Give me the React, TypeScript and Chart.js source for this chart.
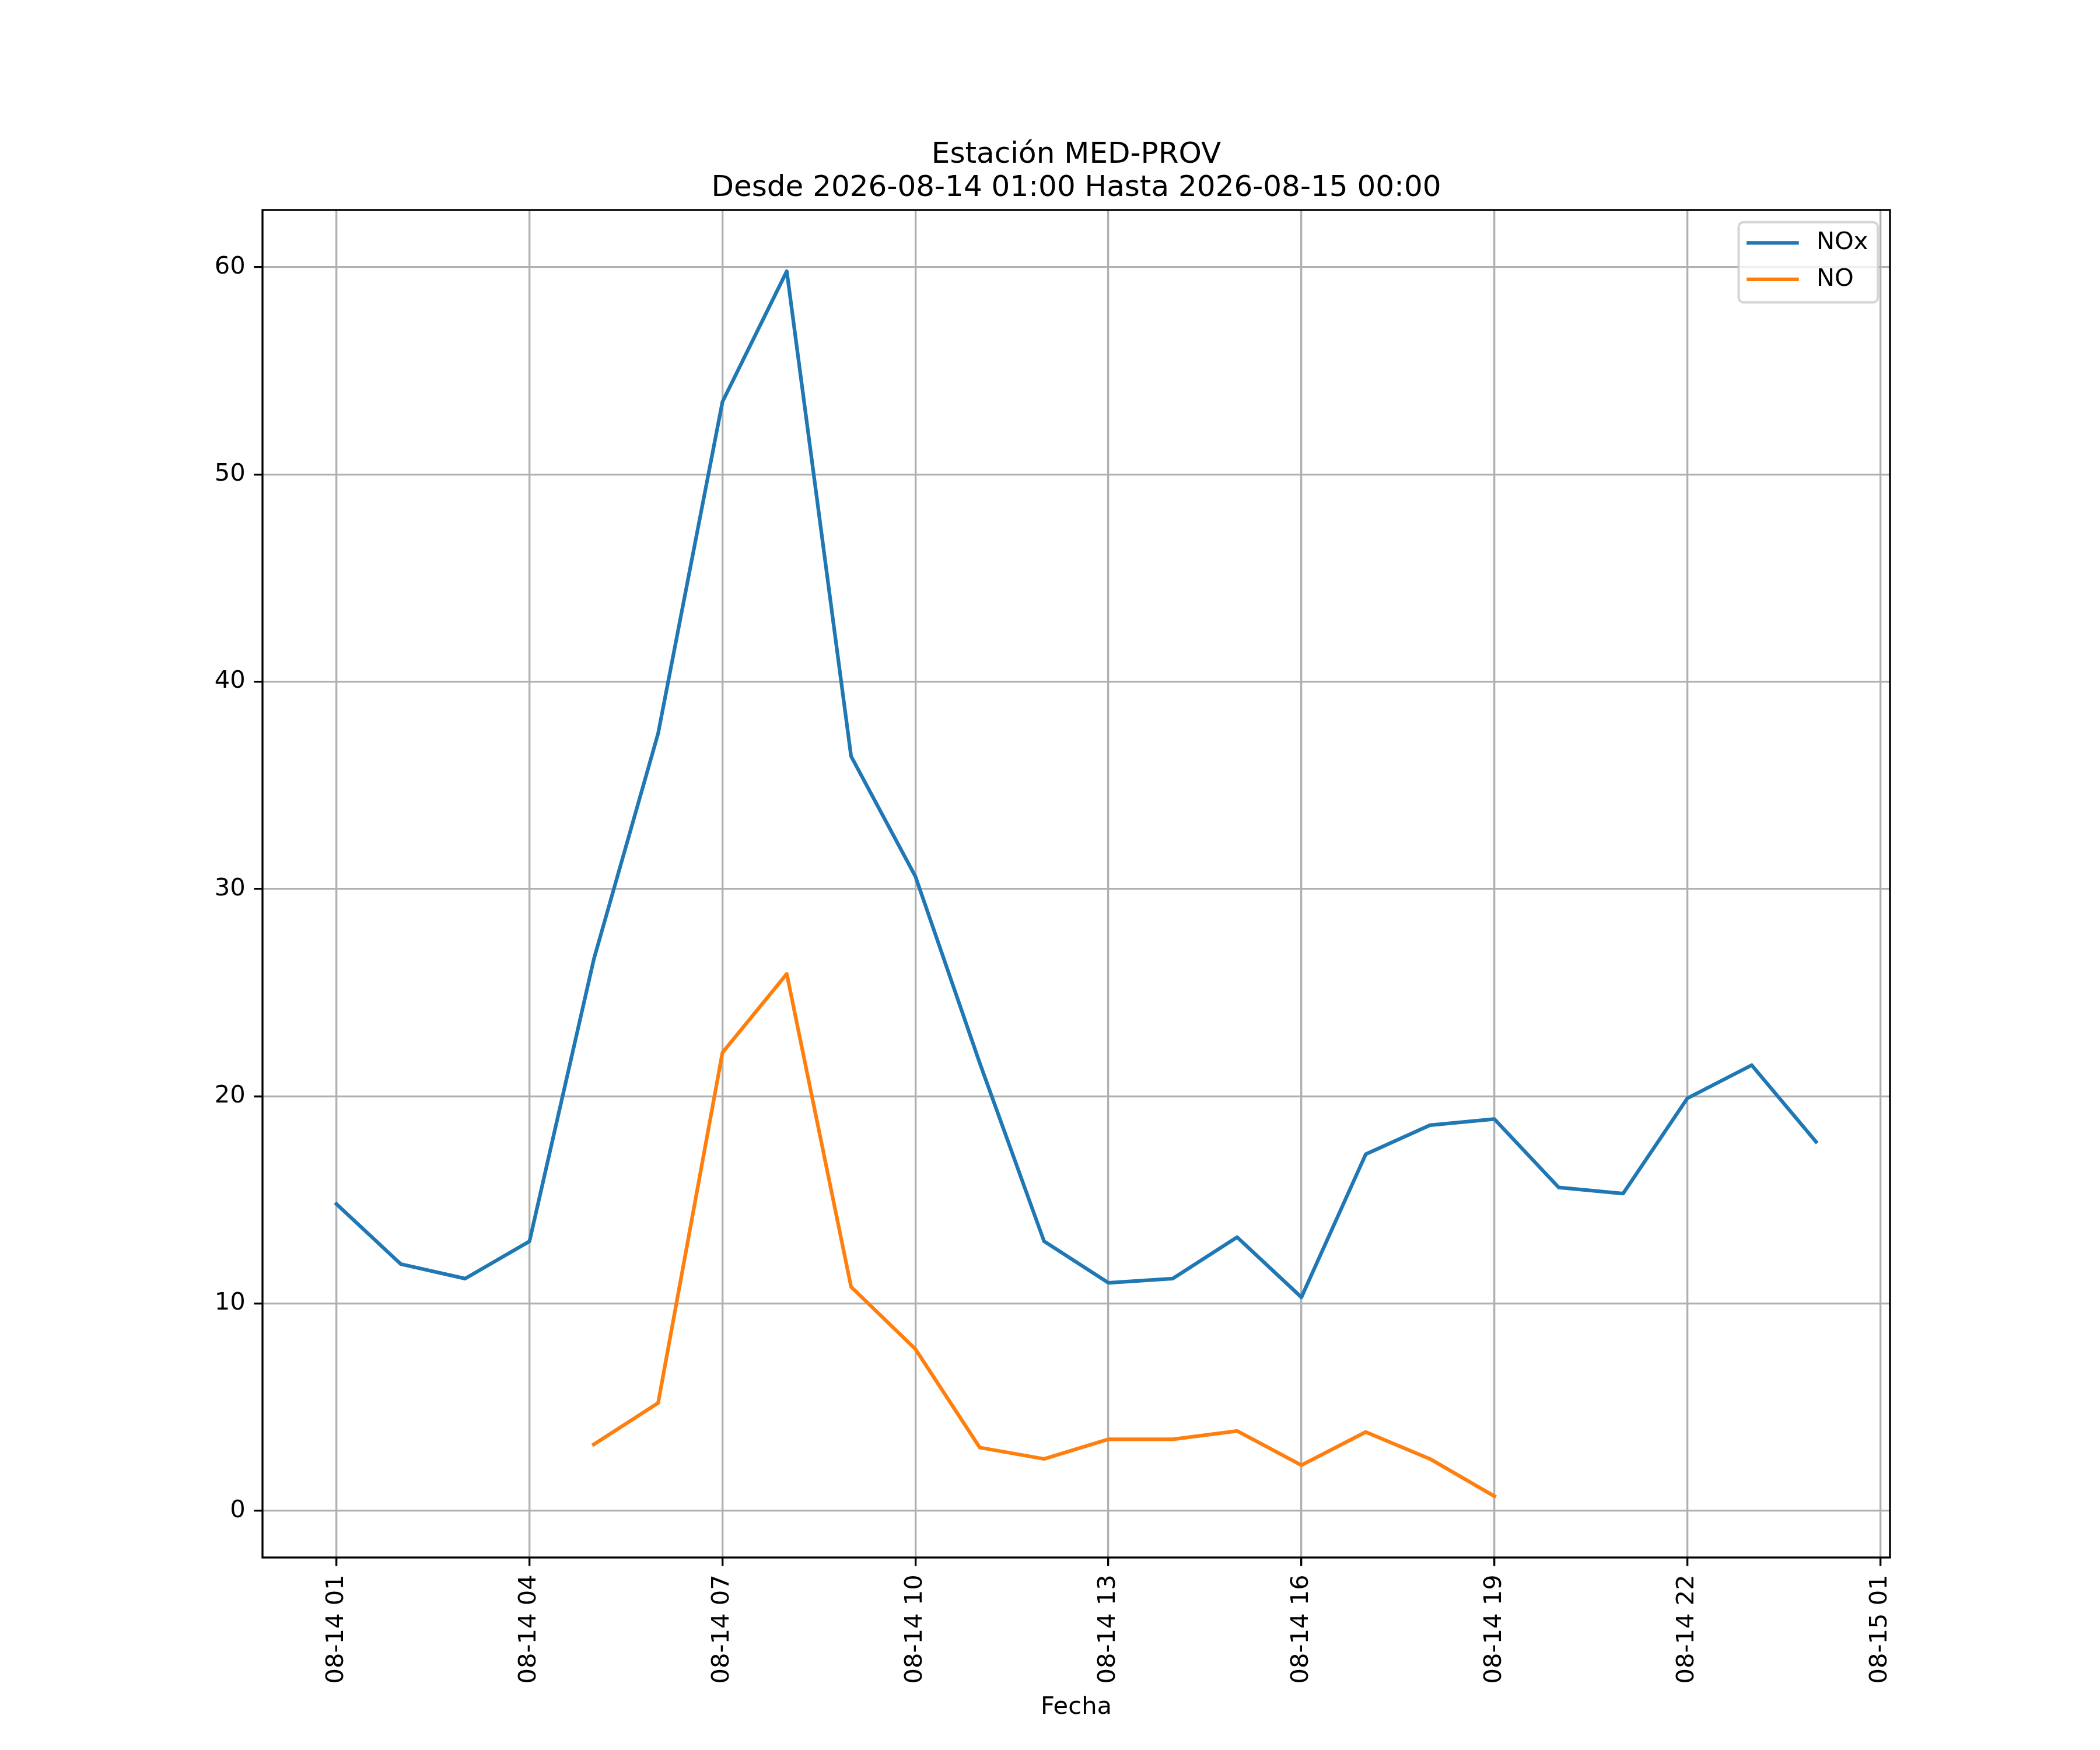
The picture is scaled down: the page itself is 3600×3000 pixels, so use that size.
import React, { useEffect, useRef } from "react";
import { Chart, registerables } from "chart.js";

Chart.register(...registerables);

// ---------- data ----------
const times = [
  "2026-08-14 01:00", "2026-08-14 02:00", "2026-08-14 03:00", "2026-08-14 04:00",
  "2026-08-14 05:00", "2026-08-14 06:00", "2026-08-14 07:00", "2026-08-14 08:00",
  "2026-08-14 09:00", "2026-08-14 10:00", "2026-08-14 11:00", "2026-08-14 12:00",
  "2026-08-14 13:00", "2026-08-14 14:00", "2026-08-14 15:00", "2026-08-14 16:00",
  "2026-08-14 17:00", "2026-08-14 18:00", "2026-08-14 19:00", "2026-08-14 20:00",
  "2026-08-14 21:00", "2026-08-14 22:00", "2026-08-14 23:00", "2026-08-15 00:00",
];

const noxValues: (number | null)[] = [
  14.8, 11.9, 11.2, 13.0, 26.6, 37.5, 53.5, 59.8, 36.4, 30.6, 21.6, 13.0,
  11.0, 11.2, 13.2, 10.3, 17.2, 18.6, 18.9, 15.6, 15.3, 19.9, 21.5, 17.8,
];

const noValues: (number | null)[] = [
  null, null, null, null, 3.2, 5.2, 22.1, 25.9, 10.8, 7.8, 3.05, 2.5,
  3.45, 3.45, 3.85, 2.2, 3.8, 2.5, 0.7, null, null, null, null, null,
];

const seriesNames = ["NOx", "NO"];
const seriesColors = ["#1f77b4", "#ff7f0e"];

const xTickHours = [0, 3, 6, 9, 12, 15, 18, 21, 24];
const xTickLabels = [
  "08-14 01", "08-14 04", "08-14 07", "08-14 10", "08-14 13",
  "08-14 16", "08-14 19", "08-14 22", "08-15 01",
];
const yTickValues = [0, 10, 20, 30, 40, 50, 60];

const titleLines = ["Estación MED-PROV", "Desde 2026-08-14 01:00 Hasta 2026-08-15 00:00"];
const xAxisTitle = "Fecha";

// ---------- layout constants (matplotlib-like, 300 dpi) ----------
const W = 3600;
const H = 3000;
const PT = 300 / 72;
const FONT = "'DejaVu Sans', sans-serif";
const FS = 10 * PT; // 41.67
const AX_LEFT = 0.125 * W;
const AX_RIGHT = 0.9 * W;
const AX_TOP = 0.12 * H;
const AX_BOTTOM = 0.89 * H;

const toHours = (t: string) => {
  const base = Date.parse(times[0].replace(" ", "T") + ":00Z");
  return (Date.parse(t.replace(" ", "T") + ":00Z") - base) / 3600000;
};

const xs = times.map(toHours);
const xMinData = Math.min(...xs);
const xMaxData = Math.max(...xs);
const xPad = (xMaxData - xMinData) * 0.05;

const allY = [...noxValues, ...noValues].filter((v): v is number => v !== null);
const yMinData = Math.min(...allY);
const yMaxData = Math.max(...allY);
const yPad = (yMaxData - yMinData) * 0.05;

const frameAndLegend = {
  id: "frameAndLegend",
  afterDatasetsDraw(chart: any) {
    const { ctx, chartArea } = chart;
    ctx.save();
    ctx.strokeStyle = "#000";
    ctx.lineWidth = 0.8 * PT;
    ctx.strokeRect(
      chartArea.left,
      chartArea.top,
      chartArea.right - chartArea.left,
      chartArea.bottom - chartArea.top
    );
    ctx.restore();
  },
  afterDraw(chart: any) {
    const { ctx, chartArea } = chart;
    ctx.save();

    // title, centred over the axes
    ctx.font = `${12 * PT}px ${FONT}`;
    ctx.fillStyle = "#000";
    ctx.textAlign = "center";
    ctx.textBaseline = "middle";
    const cx = (chartArea.left + chartArea.right) / 2;
    const titleLineH = 57;
    const lastY = chartArea.top - 37;
    titleLines.forEach((line, i) => {
      ctx.fillText(line, cx, lastY - (titleLines.length - 1 - i) * titleLineH);
    });

    // legend
    ctx.font = `${FS}px ${FONT}`;
    const borderPad = 0.4 * FS;
    const handleLen = 2.0 * FS;
    const handlePad = 0.8 * FS;
    const labelSpacing = 0.5 * FS;
    const rowH = FS;
    const axPad = 0.5 * FS;
    const textW = Math.max(...seriesNames.map((n) => ctx.measureText(n).width));
    const boxW = borderPad * 2 + handleLen + handlePad + textW;
    const boxH = borderPad * 2 + rowH * seriesNames.length + labelSpacing * (seriesNames.length - 1);
    const bx = chartArea.right - axPad - boxW;
    const by = chartArea.top + axPad;
    const r = 0.2 * FS;
    ctx.beginPath();
    ctx.moveTo(bx + r, by);
    ctx.lineTo(bx + boxW - r, by);
    ctx.arcTo(bx + boxW, by, bx + boxW, by + r, r);
    ctx.lineTo(bx + boxW, by + boxH - r);
    ctx.arcTo(bx + boxW, by + boxH, bx + boxW - r, by + boxH, r);
    ctx.lineTo(bx + r, by + boxH);
    ctx.arcTo(bx, by + boxH, bx, by + boxH - r, r);
    ctx.lineTo(bx, by + r);
    ctx.arcTo(bx, by, bx + r, by, r);
    ctx.closePath();
    ctx.fillStyle = "rgba(255,255,255,0.8)";
    ctx.fill();
    ctx.strokeStyle = "rgba(204,204,204,0.8)";
    ctx.lineWidth = 1.0 * PT;
    ctx.stroke();

    seriesNames.forEach((name, i) => {
      const cy = by + borderPad + rowH / 2 + i * (rowH + labelSpacing) - 2;
      ctx.beginPath();
      ctx.strokeStyle = seriesColors[i];
      ctx.lineWidth = 1.5 * PT;
      ctx.lineCap = "square";
      ctx.moveTo(bx + borderPad, cy);
      ctx.lineTo(bx + borderPad + handleLen, cy);
      ctx.stroke();
      ctx.fillStyle = "#000";
      ctx.textAlign = "left";
      ctx.textBaseline = "middle";
      ctx.fillText(name, bx + borderPad + handleLen + handlePad, cy);
    });
    ctx.restore();
  },
};

export default function App() {
  const canvasRef = useRef<HTMLCanvasElement | null>(null);

  useEffect(() => {
    const canvas = canvasRef.current;
    if (!canvas) return;
    const seriesValues = [noxValues, noValues];
    const chart = new Chart(canvas, {
      type: "line",
      data: {
        datasets: seriesNames.map((name, s) => ({
          label: name,
          data: xs.map((x, i) => ({ x, y: seriesValues[s][i] })),
          borderColor: seriesColors[s],
          backgroundColor: seriesColors[s],
          borderWidth: 1.5 * PT,
          pointRadius: 0,
          pointHoverRadius: 0,
          tension: 0,
          fill: false,
          spanGaps: false,
          borderCapStyle: "square",
          borderJoinStyle: "round",
        })),
      },
      options: {
        animation: false,
        responsive: false,
        devicePixelRatio: 1,
        events: [],
        layout: { padding: { left: 0, right: W - AX_RIGHT, top: AX_TOP, bottom: 0 } },
        plugins: {
          legend: { display: false },
          tooltip: { enabled: false },
          title: { display: false },
        },
        scales: {
          x: {
            type: "linear",
            min: xMinData - xPad,
            max: xMaxData + xPad,
            afterBuildTicks: (scale: any) => {
              scale.ticks = xTickHours.map((v) => ({ value: v }));
            },
            afterFit: (scale: any) => {
              scale.height = H - AX_BOTTOM;
            },
            ticks: {
              autoSkip: false,
              minRotation: 90,
              maxRotation: 90,
              padding: 3.5 * PT,
              color: "#000",
              font: { family: FONT, size: FS },
              callback: (v: any) => {
                const k = xTickHours.indexOf(Number(v));
                return k >= 0 ? xTickLabels[k] : "";
              },
            },
            grid: {
              color: "#b0b0b0",
              lineWidth: 0.8 * PT,
              drawTicks: true,
              tickColor: "#000",
              tickLength: 3.5 * PT,
              tickWidth: 0.8 * PT,
            },
            border: { display: false },
            title: {
              display: true,
              text: xAxisTitle,
              color: "#000",
              font: { family: FONT, size: FS, lineHeight: 1.2 },
              padding: { top: 0, bottom: 48 },
            },
          },
          y: {
            type: "linear",
            min: yMinData - yPad,
            max: yMaxData + yPad,
            afterBuildTicks: (scale: any) => {
              scale.ticks = yTickValues.map((v) => ({ value: v }));
            },
            afterFit: (scale: any) => {
              scale.width = AX_LEFT;
            },
            ticks: {
              autoSkip: false,
              padding: 3.5 * PT,
              color: "#000",
              font: { family: FONT, size: FS },
              callback: (v: any) => String(v),
            },
            grid: {
              color: "#b0b0b0",
              lineWidth: 0.8 * PT,
              drawTicks: true,
              tickColor: "#000",
              tickLength: 3.5 * PT,
              tickWidth: 0.8 * PT,
            },
            border: { display: false },
          },
        },
      } as any,
      plugins: [frameAndLegend],
    });
    return () => chart.destroy();
  }, []);

  return (
    <div style={{ position: "absolute", left: 0, top: 0, width: W, height: H, background: "#fff" }}>
      <canvas ref={canvasRef} width={W} height={H} style={{ width: W, height: H, display: "block" }} />
    </div>
  );
}
